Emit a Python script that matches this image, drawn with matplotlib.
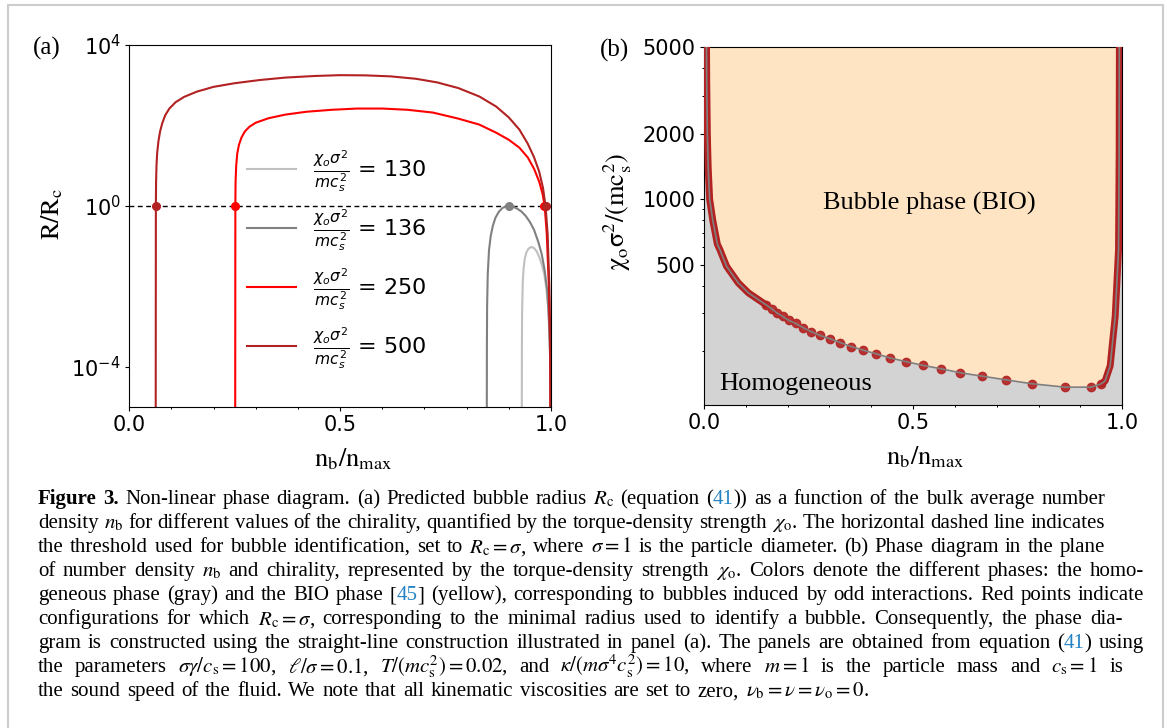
import matplotlib
matplotlib.use("Agg")
import matplotlib.pyplot as plt
from matplotlib.patches import Rectangle
from matplotlib.ticker import FixedLocator, MultipleLocator, NullLocator, NullFormatter

W, H = 1167, 728

# ---- panel (a): R/Rc against nb/nmax, one curve per chirality ----
chi_values = [130, 136, 250, 500]
curve_colors = ["silver", "gray", "red", "firebrick"]

n_130 = [0.9305, 0.931, 0.9315, 0.933, 0.935, 0.938, 0.942, 0.947, 0.9535, 0.960, 0.966,
         0.972, 0.978, 0.984, 0.989, 0.993, 0.996, 0.9985, 1.0]
r_130 = [1e-7, 3.2e-4, 2.5e-3, 0.0126, 0.028, 0.05, 0.071, 0.087, 0.0955, 0.089, 0.074,
         0.054, 0.035, 0.02, 8.9e-3, 3.2e-3, 7.9e-4, 1e-4, 1e-7]

n_136 = [0.8475, 0.848, 0.8485, 0.850, 0.853, 0.857, 0.862, 0.868, 0.876, 0.885, 0.894,
         0.901, 0.910, 0.920, 0.930, 0.940, 0.950, 0.960, 0.970, 0.978, 0.985, 0.991,
         0.995, 0.998, 1.0]
r_136 = [1e-7, 3.2e-4, 3.2e-3, 0.02, 0.079, 0.178, 0.316, 0.5, 0.708, 0.891, 0.977,
         1.0, 0.955, 0.851, 0.724, 0.562, 0.398, 0.251, 0.126, 0.063, 0.025, 7.9e-3,
         1.6e-3, 1.6e-4, 1e-7]

n_250 = [0.2510, 0.2515, 0.252, 0.2535, 0.256, 0.260, 0.266, 0.274, 0.285, 0.300, 0.330,
         0.370, 0.420, 0.480, 0.540, 0.600, 0.660, 0.720, 0.780, 0.830, 0.870, 0.900,
         0.925, 0.945, 0.960, 0.972, 0.980, 0.985, 0.990, 0.995, 0.998, 1.0]
r_250 = [1e-7, 1.0, 3.98, 10, 20, 33, 50, 71, 93, 117, 151,
         186, 219, 245, 263, 263, 245, 209, 148, 105, 66, 44,
         28, 16, 8.3, 4.0, 2.0, 1.0, 0.2, 0.01, 3.2e-4, 1e-7]

n_500 = [0.0625, 0.0630, 0.0635, 0.0645, 0.066, 0.069, 0.073, 0.078, 0.085, 0.095, 0.110,
         0.130, 0.160, 0.200, 0.250, 0.310, 0.370, 0.440, 0.500, 0.560, 0.620, 0.680,
         0.730, 0.780, 0.830, 0.870, 0.900, 0.925, 0.945, 0.960, 0.972, 0.981, 0.987,
         0.992, 0.996, 0.9985, 1.0]
r_500 = [1e-7, 1.0, 3.98, 10, 20, 40, 71, 112, 178, 263, 380,
         513, 692, 912, 1122, 1349, 1549, 1698, 1778, 1758, 1660, 1445,
         1175, 851, 525, 295, 158, 79, 35, 16, 7.1, 2.8, 1.0,
         0.2, 0.01, 3.2e-4, 1e-7]

# points where R = Rc = sigma
hit_n = [0.063, 0.2515, 0.901, 0.984, 0.987]
hit_colors = ["firebrick", "red", "gray", "red", "firebrick"]

# ---- panel (b): phase boundary ----
left_n = [0.006, 0.0065, 0.008, 0.010, 0.0135, 0.021, 0.032, 0.038, 0.054, 0.082,
          0.106, 0.13, 0.148]
left_chi = [5000, 3500, 2000, 1400, 1000, 800, 620, 586, 491, 412, 371, 345, 327]

dot_n = [0.148, 0.162, 0.174, 0.188, 0.2026, 0.2194, 0.2376, 0.256, 0.2775, 0.3014,
         0.3254, 0.3517, 0.3804, 0.4115, 0.445, 0.4825, 0.523, 0.566, 0.6124, 0.6635,
         0.721, 0.783, 0.8636, 0.9258, 0.950]
dot_chi = [327, 313, 300, 289, 277, 268, 256, 246, 236, 228, 219, 210, 202, 194.5, 186,
           179, 172, 166, 159, 153.5, 147.6, 141.6, 136.5, 136.5, 141.6]

right_n = [0.950, 0.959, 0.971, 0.983, 0.991, 0.9925, 0.993]
right_chi = [141.6, 146, 171, 289, 586, 1636, 5000]

CAPTION = [
    "*Figure *3. Non-linear phase diagram. (a) Predicted bubble radius $R_\\mathrm{c}$ (equation (@41@)) as a function of the bulk average number",
    "density $n_\\mathrm{b}$ for different values of the chirality, quantified by the torque-density strength $\\chi_\\mathrm{o}$. The horizontal dashed line indicates",
    "the threshold used for bubble identification, set to $R_\\mathrm{c}=\\sigma$, where $\\sigma=1$ is the particle diameter. (b) Phase diagram in the plane",
    "of number density $n_\\mathrm{b}$ and chirality, represented by the torque-density strength $\\chi_\\mathrm{o}$. Colors denote the different phases: the homo-",
    "geneous phase (gray) and the BIO phase [@45@] (yellow), corresponding to bubbles induced by odd interactions. Red points indicate",
    "configurations for which $R_\\mathrm{c}=\\sigma$, corresponding to the minimal radius used to identify a bubble. Consequently, the phase dia-",
    "gram is constructed using the straight-line construction illustrated in panel (a). The panels are obtained from equation (@41@) using",
    "the parameters $\\sigma\\gamma/c_\\mathrm{s}=100$, $\\ell/\\sigma=0.1$, $T/(mc_\\mathrm{s}^2)=0.02$, and $\\kappa/(m\\sigma^4c_\\mathrm{s}^2)=10$, where $m=1$ is the particle mass and $c_\\mathrm{s}=1$ is",
    "the sound speed of the fluid. We note that all kinematic viscosities are set to zero, $\\nu_\\mathrm{b}=\\nu=\\nu_\\mathrm{o}=0$.",
]
CAPTION_RIGHT = [1105, 1105, 1105, 1144, 1144, 1123, 1144, 1123, None]
CAPTION_LEFT = 38
CAPTION_BASE = 504
CAPTION_STEP = 24.05
LINK = "#2383c4"
SERIF = "Liberation Serif"


def style_x(ax):
    ax.set_xlim(0, 1)
    ax.set_xticks([0, 0.5, 1.0])
    ax.set_xticklabels(["0.0", "0.5", "1.0"])
    ax.xaxis.set_minor_locator(MultipleLocator(0.1))
    ax.tick_params(which="major", labelsize=15, length=2.6, width=0.8)
    ax.tick_params(which="minor", length=1.7, width=0.7)
    ax.set_xlabel(r"$\mathrm{n_b/n_{max}}$", fontsize=19, math_fontfamily="stix",
                  labelpad=8)
    ax.xaxis.label.set_x(0.53)


def draw_caption(fig):
    renderer = fig.canvas.get_renderer()
    for i, line in enumerate(CAPTION):
        y = 1 - (CAPTION_BASE + i * CAPTION_STEP) / H
        words = []
        for word in line.split(" "):
            bold = word.startswith("*")
            word = word.lstrip("*")
            pieces = []
            for k, seg in enumerate(word.split("@")):
                if not seg:
                    continue
                t = fig.text(0, y, seg, fontsize=15, family=SERIF, math_fontfamily="stix",
                             color=LINK if k % 2 else "black",
                             fontweight="bold" if bold else "normal", va="baseline")
                pieces.append(t)
            words.append(pieces)
        widths = [[t.get_window_extent(renderer).width for t in p] for p in words]
        total = sum(sum(w) for w in widths)
        if CAPTION_RIGHT[i] is None:
            gap = 6.5
        else:
            gap = max(2.5, (CAPTION_RIGHT[i] - CAPTION_LEFT - total) / (len(words) - 1))
        x = CAPTION_LEFT
        for pieces, ws in zip(words, widths):
            for t, w in zip(pieces, ws):
                t.set_x(x / W)
                x += w
            x += gap


fig = plt.figure(figsize=(W / 100, H / 100), dpi=100)

# (a)
ax1 = fig.add_axes([129.3 / W, 1 - 407 / H, 421.7 / W, 362 / H])
for n, r, chi, c in zip([n_130, n_136, n_250, n_500], [r_130, r_136, r_250, r_500],
                        chi_values, curve_colors):
    ax1.plot(n, r, color=c, lw=1.5,
             label=r"$\frac{\chi_o\sigma^2}{mc_s^2}$ = " + str(chi))
ax1.axhline(1.0, color="black", lw=1.0, ls="--", dashes=(3.5, 2.5), zorder=1)
for n, c in zip(hit_n, hit_colors):
    ax1.plot([n], [1.0], "o", color=c, ms=5.5, zorder=4)
ax1.set_yscale("log")
ax1.set_ylim(1e-5, 1e4)
ax1.yaxis.set_major_locator(FixedLocator([1e-4, 1.0, 1e4]))
ax1.yaxis.set_minor_locator(NullLocator())
style_x(ax1)
ax1.set_ylabel(r"$\mathrm{R/R_c}$", fontsize=19, math_fontfamily="stix", labelpad=4)
ax1.yaxis.label.set_y(0.535)
ax1.legend(frameon=False, fontsize=16, loc="center left", bbox_to_anchor=(0.28, 0.407),
           borderpad=0, borderaxespad=0, handlelength=2.2, handletextpad=0.75,
           labelspacing=0.6)

# (b)
ax2 = fig.add_axes([704 / W, 1 - 405 / H, 418.3 / W, 357.7 / H])
ax2.set_facecolor("lightgray")
line_n = left_n + dot_n[1:-1] + right_n
line_chi = left_chi + dot_chi[1:-1] + right_chi
ax2.fill_between(line_n, line_chi, 5000, color="bisque", lw=0)
ax2.plot(left_n, left_chi, color="firebrick", lw=5, solid_capstyle="round", zorder=3)
ax2.plot(right_n, right_chi, color="firebrick", lw=5, solid_capstyle="round", zorder=3)
ax2.plot(dot_n, dot_chi, "o", color="firebrick", ms=6, alpha=0.9, zorder=3)
ax2.plot(line_n, line_chi, color="gray", lw=1.2, zorder=4)
ax2.set_yscale("log")
ax2.set_ylim(113, 5000)
ax2.yaxis.set_major_locator(FixedLocator([500, 1000, 2000, 5000]))
ax2.set_yticklabels(["500", "1000", "2000", "5000"])
ax2.yaxis.set_minor_formatter(NullFormatter())
style_x(ax2)
ax2.set_ylabel(r"$\mathrm{\chi_o\sigma^2/(mc_s^2)}$", fontsize=19, math_fontfamily="stix",
               labelpad=6)
ax2.yaxis.label.set_y(0.54)
ax2.text(0.538, 0.564, "Bubble phase (BIO)", transform=ax2.transAxes, family=SERIF,
         fontsize=19, ha="center", va="center")
ax2.text(0.036, 0.042, "Homogeneous", transform=ax2.transAxes, family=SERIF,
         fontsize=19, ha="left", va="baseline")

fig.text(33 / W, 1 - 48 / H, "(a)", family=SERIF, fontsize=18, va="center")
fig.text(600 / W, 1 - 50 / H, "(b)", family=SERIF, fontsize=18, va="center")
fig.add_artist(Rectangle((8 / W, -0.01), 1155 / W, 1.01 - 5 / H, transform=fig.transFigure,
                         fill=False, edgecolor="#cccccc", lw=1.5))

draw_caption(fig)
fig.savefig("out.png", dpi=100)
